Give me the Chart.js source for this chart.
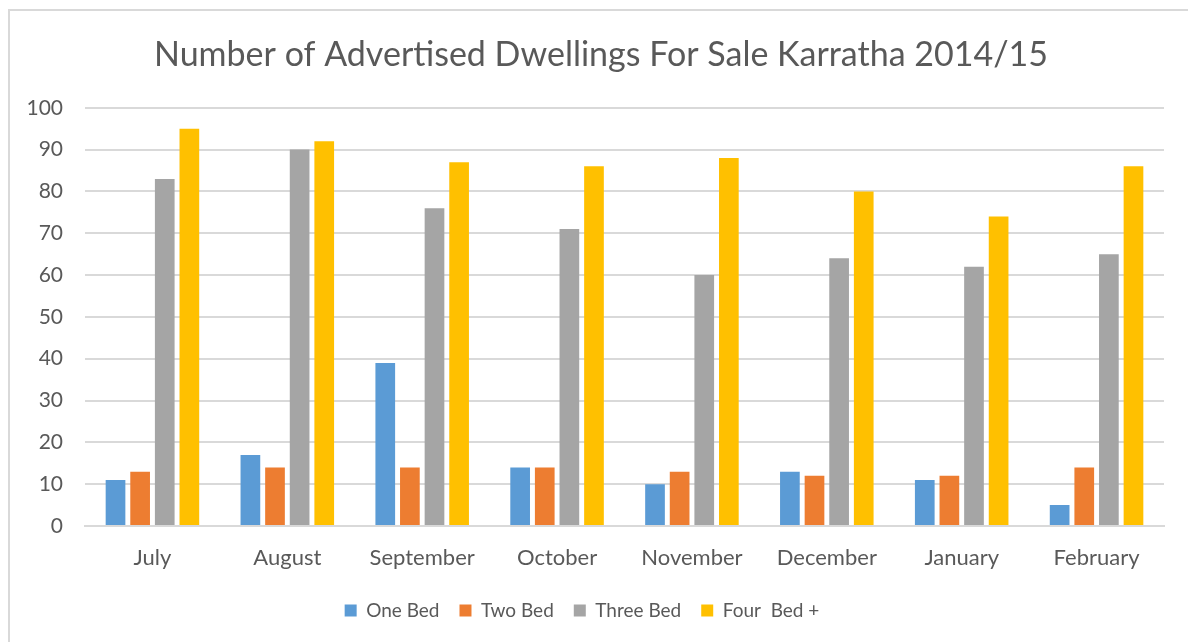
<!DOCTYPE html>
<html>
<head>
<meta charset="utf-8">
<script src="https://cdn.jsdelivr.net/npm/chart.js@4/dist/chart.umd.min.js"></script>
<style>
  html, body { margin: 0; padding: 0; background: #fff; overflow: hidden; }
  #frame { position: absolute; left: 8px; top: 9px; width: 1300px; height: 800px; border: 2px solid #d9d9d9; }
  #wrap { position: absolute; left: 0; top: 0; width: 1188px; height: 642px; }
</style>
</head>
<body>
<div id="frame"></div>
<div id="wrap"><canvas id="chart" width="1188" height="642"></canvas></div>
<script>
var months = ['July', 'August', 'September', 'October', 'November', 'December', 'January', 'February'];
var oneBed = [11, 17, 39, 14, 10, 13, 11, 5];
var twoBed = [13, 14, 14, 14, 13, 12, 12, 14];
var threeBed = [83, 90, 76, 71, 60, 64, 62, 65];
var fourBed = [95, 92, 87, 86, 88, 80, 74, 86];

var textColor = '#595959';
var gridColor = '#d9d9d9';
var fontFamily = 'Lato, "Open Sans", sans-serif';

// title in the reference is centred a bit right of the canvas middle
var shiftTitle = {
    id: 'shiftTitle',
    afterLayout: function(chart) {
        if (chart.titleBlock) { chart.titleBlock.left = 38; }
    }
};

window.onload = function() {
    new Chart(document.getElementById('chart').getContext('2d'), {
        type: 'bar',
        plugins: [shiftTitle],
        data: {
            labels: months,
            datasets: [
                { label: 'One Bed', data: oneBed, backgroundColor: '#5B9BD5' },
                { label: 'Two Bed', data: twoBed, backgroundColor: '#ED7D31' },
                { label: 'Three Bed', data: threeBed, backgroundColor: '#A5A5A5' },
                { label: 'Four  Bed +', data: fourBed, backgroundColor: '#FFC000' }
            ]
        },
        options: {
            responsive: false,
            animation: false,
            layout: { padding: { left: 0, right: 24, top: 0, bottom: 12 } },
            datasets: { bar: { categoryPercentage: 0.73, barPercentage: 0.8 } },
            plugins: {
                title: {
                    display: true,
                    text: 'Number of Advertised Dwellings For Sale Karratha 2014/15',
                    color: textColor,
                    font: { family: fontFamily, size: 34, weight: 'normal' },
                    padding: { top: 35, bottom: 32 }
                },
                legend: {
                    position: 'bottom',
                    labels: {
                        color: textColor,
                        font: { family: fontFamily, size: 19 },
                        boxWidth: 12,
                        boxHeight: 12,
                        padding: 20
                    }
                },
                tooltip: { enabled: false }
            },
            scales: {
                x: {
                    afterFit: function(scale) { scale.height = 55; },
                    grid: { display: false, drawTicks: false },
                    border: { display: true, color: gridColor, width: 2 },
                    ticks: { color: textColor, font: { family: fontFamily, size: 22 }, padding: 19 }
                },
                y: {
                    min: 0,
                    max: 100,
                    afterFit: function(scale) { scale.width = 85; },
                    grid: { color: gridColor, lineWidth: 2, drawTicks: false },
                    border: { display: false },
                    ticks: { stepSize: 10, color: textColor, font: { family: fontFamily, size: 21 }, padding: 22 }
                }
            }
        }
    });
};
</script>
</body>
</html>
